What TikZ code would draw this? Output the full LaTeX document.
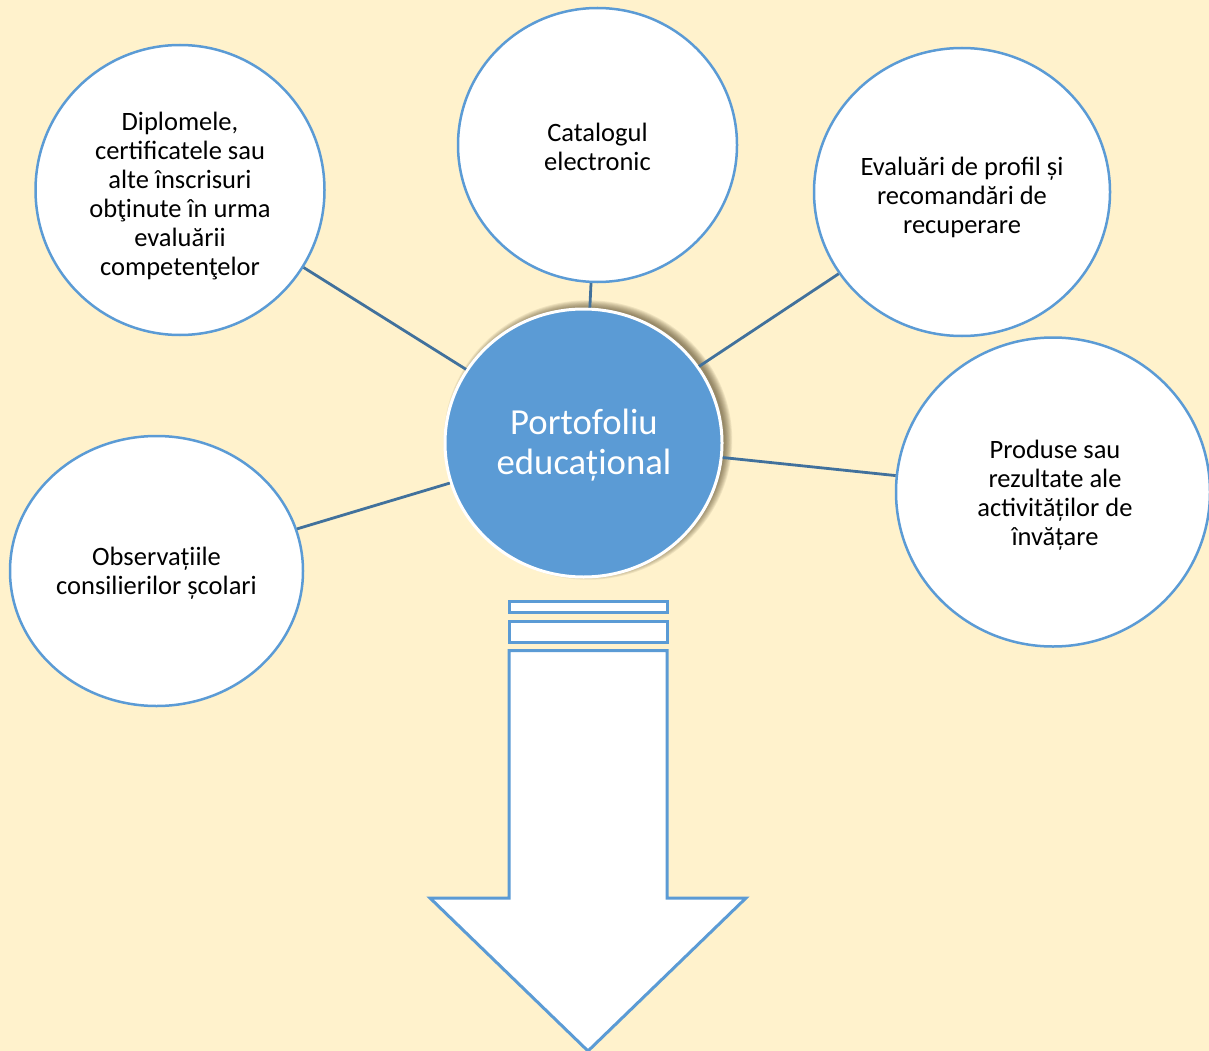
\documentclass[tikz,border=0pt]{standalone}
\usepackage{fontspec}
\setmainfont{Carlito}
\usetikzlibrary{shapes.geometric}
\definecolor{bgcream}{RGB}{255,242,204}
\definecolor{ringblue}{RGB}{91,155,213}
\definecolor{linkblue}{RGB}{65,113,156}
\definecolor{shadowbrown}{RGB}{80,65,35}
\tikzset{
  bubble/.style={ellipse, draw=ringblue, line width=2.5pt, fill=white, inner sep=0pt},
  bubbletext/.style={inner sep=0pt, align=center, font=\fontsize{26.5}{29}\selectfont, text=black},
  hub/.style={ellipse, draw=white, line width=3pt, fill=ringblue, inner sep=0pt},
  hubtext/.style={inner sep=0pt, align=center, font=\fontsize{36.7}{40}\selectfont, text=white},
  link/.style={draw=linkblue, line width=2.8pt},
  arrowpart/.style={draw=ringblue, line width=3pt, fill=white},
  softshadow/.style={fill=shadowbrown, opacity=0.09}
}
\begin{document}
\begin{tikzpicture}[x=1pt,y=-1pt]
\useasboundingbox (0,0) rectangle (1209,1051);
\fill[bgcream] (0,0) rectangle (1209,1051);

\node[bubble, minimum width=289pt, minimum height=290pt] (dipl) at (180,190) {};
\node[bubbletext] (diplt) at (180,196)
  {Diplomele,\\certificatele sau\\alte înscrisuri\\obţinute în urma\\evaluării\\competenţelor};
\node[bubble, minimum width=279pt, minimum height=274pt] (cat) at (597.5,145) {};
\node[bubbletext] (catt) at (597.5,147) {Catalogul\\electronic};
\node[bubble, minimum width=296pt, minimum height=288pt] (eval) at (962,192) {};
\node[bubbletext] (evalt) at (962,197) {Evaluări de profil și\\recomandări de\\recuperare};
\node[bubble, minimum width=314pt, minimum height=309pt] (prod) at (1053,492) {};
\node[bubbletext] (prodt) at (1055,495) {Produse sau\\rezultate ale\\activităților de\\învățare};
\node[bubble, minimum width=293pt, minimum height=270pt] (obs) at (156.5,571) {};
\node[bubbletext] (obst) at (156.5,573) {Observațiile\\consilierilor școlari};

\foreach \k in {0,...,8}
  \fill[softshadow] (588,440) ellipse ({137+\k*0.9} and {132.5+\k*0.9});
\node[hub, minimum width=277pt, minimum height=268pt] (hubnode) at (583.5,443) {};
\node[hubtext] (hubt) at (584,445) {Portofoliu\\educațional};

\draw[link] (dipl) -- (hubnode);
\draw[link] (cat) -- (hubnode);
\draw[link] (eval) -- (hubnode);
\draw[link] (prod) -- (hubnode);
\draw[link] (obs) -- (hubnode);

\draw[arrowpart] (509,601.5) rectangle (667,612);
\draw[arrowpart] (509,621.5) rectangle (667,642);
\draw[arrowpart] (509,650.5) -- (667,650.5) -- (667,898) -- (746,898) -- (588,1051) -- (430,898) -- (509,898) -- cycle;
\end{tikzpicture}
\end{document}
